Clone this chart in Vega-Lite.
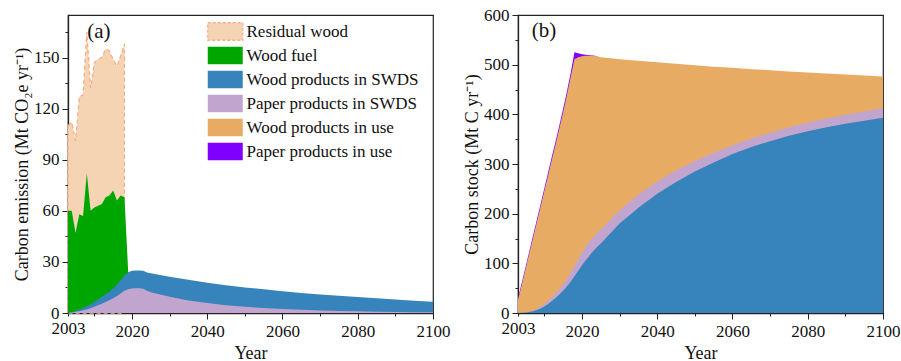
{
  "$schema": "https://vega.github.io/schema/vega-lite/v6.json",
  "padding": {"left": 12, "top": 5, "right": 5, "bottom": 0},
  "background": "white",
  "config": {
    "font": "Liberation Serif",
    "view": {"stroke": "#222", "strokeWidth": 1.2},
    "axis": {"labelFont": "Liberation Serif", "labelFontSize": 17, "labelColor": "#111", "titleFont": "Liberation Serif", "titleFontSize": 18, "titleFontWeight": "normal", "titleColor": "#111", "domainColor": "#222", "domainWidth": 1.3, "tickColor": "#222", "tickSize": 6, "tickWidth": 1, "grid": false, "labelFlush": false, "labelOverlap": false}
  },
  "datasets": {
    "a": [
      {"year": 2003, "residual": 110, "fuel": 60, "wood_swds": 0, "paper_swds": 0},
      {"year": 2004, "residual": 112, "fuel": 60, "wood_swds": 0.5, "paper_swds": 0.3},
      {"year": 2005, "residual": 101, "fuel": 47, "wood_swds": 1.2, "paper_swds": 0.7},
      {"year": 2006, "residual": 127, "fuel": 58, "wood_swds": 2, "paper_swds": 1.1},
      {"year": 2007, "residual": 128, "fuel": 57, "wood_swds": 3, "paper_swds": 1.6},
      {"year": 2008, "residual": 165, "fuel": 82, "wood_swds": 4, "paper_swds": 2.1},
      {"year": 2009, "residual": 132, "fuel": 60, "wood_swds": 5.2, "paper_swds": 2.8},
      {"year": 2010, "residual": 147, "fuel": 62, "wood_swds": 6.5, "paper_swds": 3.6},
      {"year": 2011, "residual": 149, "fuel": 63, "wood_swds": 8, "paper_swds": 4.5},
      {"year": 2012, "residual": 150, "fuel": 64, "wood_swds": 9.5, "paper_swds": 5.4},
      {"year": 2013, "residual": 155, "fuel": 68, "wood_swds": 11, "paper_swds": 6.4},
      {"year": 2014, "residual": 154, "fuel": 69, "wood_swds": 12.5, "paper_swds": 7.5},
      {"year": 2015, "residual": 149, "fuel": 72, "wood_swds": 14.5, "paper_swds": 8.7},
      {"year": 2016, "residual": 145, "fuel": 66, "wood_swds": 16.8, "paper_swds": 10},
      {"year": 2017, "residual": 151, "fuel": 69, "wood_swds": 19.3, "paper_swds": 11.5},
      {"year": 2018, "residual": 158, "fuel": 68, "wood_swds": 22, "paper_swds": 13},
      {"year": 2019, "fuel": 24, "wood_swds": 24, "paper_swds": 14},
      {"year": 2020, "wood_swds": 24.8, "paper_swds": 14.4},
      {"year": 2021, "wood_swds": 25, "paper_swds": 14.5},
      {"year": 2022, "wood_swds": 25, "paper_swds": 14.5},
      {"year": 2023, "wood_swds": 24.8, "paper_swds": 14.3},
      {"year": 2024, "wood_swds": 23.8, "paper_swds": 13},
      {"year": 2025, "wood_swds": 23.4, "paper_swds": 12.2},
      {"year": 2030, "wood_swds": 21.3, "paper_swds": 9.5},
      {"year": 2035, "wood_swds": 19.5, "paper_swds": 7.3},
      {"year": 2040, "wood_swds": 17.8, "paper_swds": 5.8},
      {"year": 2045, "wood_swds": 16.3, "paper_swds": 4.5},
      {"year": 2050, "wood_swds": 15, "paper_swds": 3.6},
      {"year": 2055, "wood_swds": 14, "paper_swds": 2.9},
      {"year": 2060, "wood_swds": 12.8, "paper_swds": 2.4},
      {"year": 2065, "wood_swds": 11.8, "paper_swds": 1.9},
      {"year": 2070, "wood_swds": 10.9, "paper_swds": 1.5},
      {"year": 2075, "wood_swds": 10.1, "paper_swds": 1.2},
      {"year": 2080, "wood_swds": 9.4, "paper_swds": 1.0},
      {"year": 2085, "wood_swds": 8.6, "paper_swds": 0.8},
      {"year": 2090, "wood_swds": 7.9, "paper_swds": 0.6},
      {"year": 2095, "wood_swds": 7.2, "paper_swds": 0.5},
      {"year": 2100, "wood_swds": 6.6, "paper_swds": 0.4}
    ],
    "b": [
      {"year": 2003, "paper_use": 29, "wood_use": 26, "paper_swds": 0, "wood_swds": 0},
      {"year": 2004, "paper_use": 61, "wood_use": 57, "paper_swds": 0.7, "wood_swds": 0.5},
      {"year": 2005, "paper_use": 92, "wood_use": 88, "paper_swds": 1.5, "wood_swds": 1},
      {"year": 2006, "paper_use": 124, "wood_use": 120, "paper_swds": 3, "wood_swds": 2},
      {"year": 2007, "paper_use": 156, "wood_use": 151, "paper_swds": 5, "wood_swds": 3.5},
      {"year": 2008, "paper_use": 188, "wood_use": 183, "paper_swds": 8, "wood_swds": 6},
      {"year": 2009, "paper_use": 219, "wood_use": 214, "paper_swds": 12.5, "wood_swds": 9},
      {"year": 2010, "paper_use": 251, "wood_use": 246, "paper_swds": 18, "wood_swds": 13},
      {"year": 2011, "paper_use": 283, "wood_use": 277, "paper_swds": 24.5, "wood_swds": 18},
      {"year": 2012, "paper_use": 315, "wood_use": 309, "paper_swds": 32, "wood_swds": 24},
      {"year": 2013, "paper_use": 346, "wood_use": 340, "paper_swds": 39.5, "wood_swds": 30},
      {"year": 2014, "paper_use": 378, "wood_use": 372, "paper_swds": 48, "wood_swds": 37},
      {"year": 2015, "paper_use": 411, "wood_use": 404, "paper_swds": 58, "wood_swds": 45},
      {"year": 2016, "paper_use": 446, "wood_use": 439, "paper_swds": 69, "wood_swds": 54},
      {"year": 2017, "paper_use": 483, "wood_use": 475, "paper_swds": 80.5, "wood_swds": 63},
      {"year": 2018, "paper_use": 525, "wood_use": 511, "paper_swds": 94, "wood_swds": 74},
      {"year": 2019, "paper_use": 523, "wood_use": 515, "paper_swds": 108, "wood_swds": 85},
      {"year": 2020, "paper_use": 521, "wood_use": 517, "paper_swds": 122, "wood_swds": 96},
      {"year": 2021, "paper_use": 520, "wood_use": 518, "paper_swds": 133, "wood_swds": 106},
      {"year": 2022, "paper_use": 519, "wood_use": 518, "paper_swds": 144, "wood_swds": 116},
      {"year": 2023, "paper_use": 518.3, "wood_use": 518, "paper_swds": 153, "wood_swds": 125},
      {"year": 2024, "paper_use": 517, "wood_use": 517, "paper_swds": 161, "wood_swds": 133},
      {"year": 2025, "wood_use": 515, "paper_swds": 168, "wood_swds": 140},
      {"year": 2030, "wood_use": 511, "paper_swds": 207, "wood_swds": 180},
      {"year": 2035, "wood_use": 508, "paper_swds": 238, "wood_swds": 212},
      {"year": 2040, "wood_use": 505, "paper_swds": 265, "wood_swds": 240},
      {"year": 2045, "wood_use": 502, "paper_swds": 287, "wood_swds": 264},
      {"year": 2050, "wood_use": 499, "paper_swds": 306, "wood_swds": 285},
      {"year": 2055, "wood_use": 496, "paper_swds": 322.5, "wood_swds": 303},
      {"year": 2060, "wood_use": 494, "paper_swds": 338, "wood_swds": 320},
      {"year": 2065, "wood_use": 491, "paper_swds": 351.5, "wood_swds": 334},
      {"year": 2070, "wood_use": 489, "paper_swds": 363, "wood_swds": 346},
      {"year": 2075, "wood_use": 486, "paper_swds": 374, "wood_swds": 357},
      {"year": 2080, "wood_use": 484, "paper_swds": 383, "wood_swds": 366},
      {"year": 2085, "wood_use": 482, "paper_swds": 391.5, "wood_swds": 374},
      {"year": 2090, "wood_use": 480, "paper_swds": 399, "wood_swds": 381},
      {"year": 2095, "wood_use": 478, "paper_swds": 405.5, "wood_swds": 387},
      {"year": 2100, "wood_use": 476, "paper_swds": 412, "wood_swds": 393}
    ]
  },
  "bounds": "flush",
  "spacing": 85,
  "resolve": {"scale": {"color": "independent"}, "legend": {"color": "independent"}},
  "hconcat": [
    {
      "width": 365,
      "height": 298,
      "data": {"name": "a"},
      "transform": [
        {"fold": ["residual", "fuel", "wood_swds", "paper_swds"], "as": ["series", "value"]},
        {"filter": "isValid(datum.value)"}
      ],
      "encoding": {
        "x": {"field": "year", "type": "quantitative", "scale": {"domain": [2003, 2100], "nice": false, "zero": false},
          "axis": {"values": [2003, 2010, 2020, 2030, 2040, 2050, 2060, 2070, 2080, 2090, 2100], "labelExpr": "datum.value === 2003 || datum.value % 20 === 0 ? datum.value + '' : ''", "tickSize": {"condition": {"test": "datum.value % 20 === 0", "value": 6}, "value": 3}, "title": "Year", "labelPadding": 4, "titlePadding": 5}},
        "y": {"field": "value", "type": "quantitative", "scale": {"domain": [0, 175], "nice": false},
          "axis": {"values": [0, 15, 30, 45, 60, 75, 90, 105, 120, 135, 150, 165], "labelExpr": "datum.value % 30 === 0 ? datum.value + '' : ''", "tickSize": {"condition": {"test": "datum.value % 30 === 0", "value": 6}, "value": 3}, "title": "Carbon emission (Mt CO₂e yr⁻¹)", "labelPadding": 3, "titlePadding": 2}},
        "color": {
          "datum": "Residual wood",
          "scale": {"domain": ["Residual wood", "Wood fuel", "Wood products in SWDS", "Paper products in SWDS", "Wood products in use", "Paper products in use"], "range": ["#f4d4b2", "#00a600", "#3784bc", "#c2a5cf", "#e8ab64", "#7f00ff"]},
          "legend": {"orient": "none", "legendX": 147.75, "legendY": 7, "title": null, "padding": 0, "symbolType": "M-2,-1H2V1H-2Z", "symbolSize": 306.25, "symbolStrokeWidth": 1.3, "labelFont": "Liberation Serif", "labelFontSize": 17, "labelColor": "#111", "labelOffset": 11.75, "rowPadding": 1, "labelLimit": 300,
            "encode": {"symbols": {"update": {"strokeDash": {"signal": "datum.value === 'Residual wood' ? [3, 2] : [1, 0]"}, "stroke": {"signal": "datum.value === 'Residual wood' ? '#f7ae8c' : 'transparent'"}}}}}
        }
      },
      "layer": [
        {"transform": [{"filter": "datum.series === 'residual'"}], "mark": {"type": "area", "stroke": "#f7ae8c", "strokeDash": [4, 3], "strokeWidth": 1.3}, "encoding": {"color": {"datum": "Residual wood"}}},
        {"transform": [{"filter": "datum.series === 'fuel'"}], "mark": {"type": "area"}, "encoding": {"color": {"datum": "Wood fuel"}}},
        {"transform": [{"filter": "datum.series === 'wood_swds'"}], "mark": {"type": "area"}, "encoding": {"color": {"datum": "Wood products in SWDS"}}},
        {"transform": [{"filter": "datum.series === 'paper_swds'"}], "mark": {"type": "area"}, "encoding": {"color": {"datum": "Paper products in SWDS"}}},
        {"data": {"values": [{"label": "(a)", "year": 2011.2, "value": 165}]}, "transform": [], "mark": {"type": "text", "font": "Liberation Serif", "fontSize": 21, "color": "#111"}, "encoding": {"text": {"field": "label"}, "color": {"value": "#111"}}}
      ]
    },
    {
      "width": 365,
      "height": 298,
      "data": {"name": "b"},
      "transform": [
        {"fold": ["paper_use", "wood_use", "paper_swds", "wood_swds"], "as": ["series", "value"]},
        {"filter": "isValid(datum.value)"}
      ],
      "encoding": {
        "x": {"field": "year", "type": "quantitative", "scale": {"domain": [2003, 2100], "nice": false, "zero": false},
          "axis": {"values": [2003, 2010, 2020, 2030, 2040, 2050, 2060, 2070, 2080, 2090, 2100], "labelExpr": "datum.value === 2003 || datum.value % 20 === 0 ? datum.value + '' : ''", "tickSize": {"condition": {"test": "datum.value % 20 === 0", "value": 6}, "value": 3}, "title": "Year", "labelPadding": 4, "titlePadding": 5}},
        "y": {"field": "value", "type": "quantitative", "scale": {"domain": [0, 600], "nice": false},
          "axis": {"values": [0, 50, 100, 150, 200, 250, 300, 350, 400, 450, 500, 550, 600], "labelExpr": "datum.value % 100 === 0 ? datum.value + '' : ''", "tickSize": {"condition": {"test": "datum.value % 100 === 0", "value": 6}, "value": 3}, "title": "Carbon stock (Mt C yr⁻¹)", "labelPadding": 3, "titlePadding": 2}},
        "color": {
          "datum": "Paper products in use",
          "scale": {"domain": ["Residual wood", "Wood fuel", "Wood products in SWDS", "Paper products in SWDS", "Wood products in use", "Paper products in use"], "range": ["#f4d4b2", "#00a600", "#3784bc", "#c2a5cf", "#e8ab64", "#7f00ff"]},
          "legend": null
        }
      },
      "layer": [
        {"transform": [{"filter": "datum.series === 'paper_use'"}], "mark": {"type": "area"}, "encoding": {"color": {"datum": "Paper products in use"}}},
        {"transform": [{"filter": "datum.series === 'wood_use'"}], "mark": {"type": "area"}, "encoding": {"color": {"datum": "Wood products in use"}}},
        {"transform": [{"filter": "datum.series === 'paper_swds'"}], "mark": {"type": "area"}, "encoding": {"color": {"datum": "Paper products in SWDS"}}},
        {"transform": [{"filter": "datum.series === 'wood_swds'"}], "mark": {"type": "area"}, "encoding": {"color": {"datum": "Wood products in SWDS"}}},
        {"data": {"values": [{"label": "(b)", "year": 2009.9, "value": 568}]}, "transform": [], "mark": {"type": "text", "font": "Liberation Serif", "fontSize": 21, "color": "#111"}, "encoding": {"text": {"field": "label"}, "color": {"value": "#111"}}}
      ]
    }
  ]
}
